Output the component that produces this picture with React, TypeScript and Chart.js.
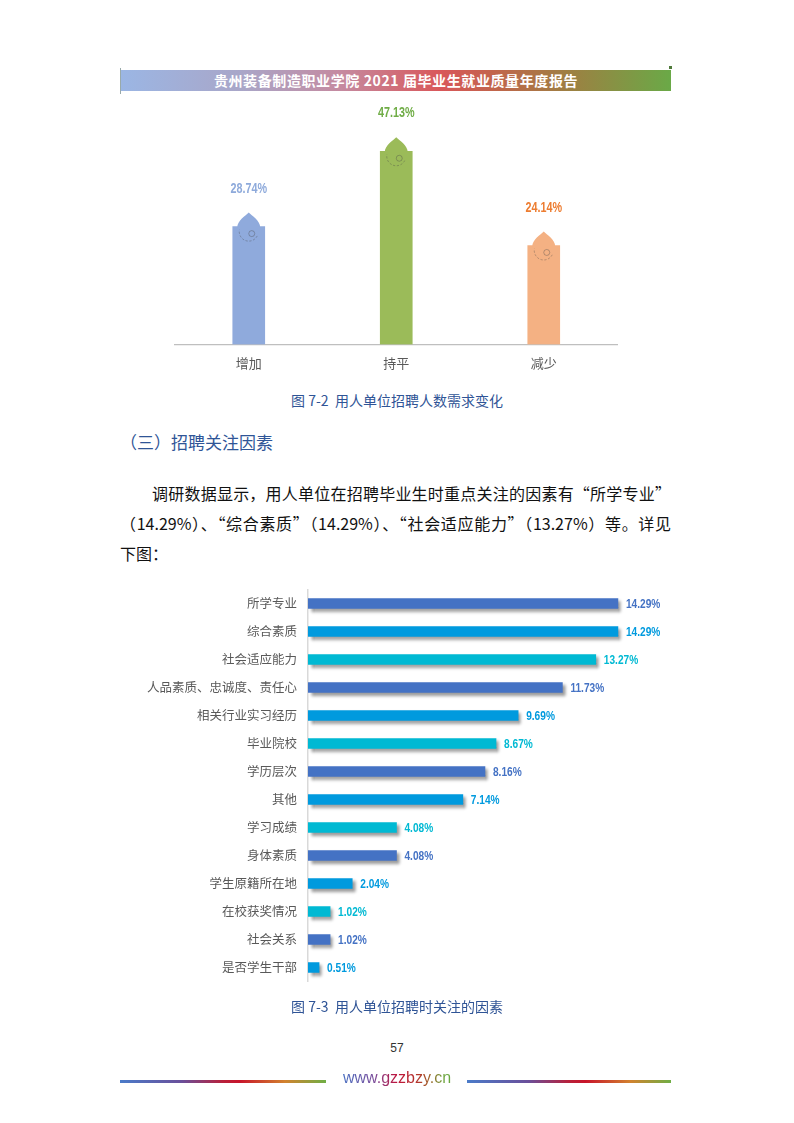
import React, { useEffect, useRef } from "react";
import { Chart, registerables } from "chart.js";

Chart.register(...registerables);

// ---------- data ----------
const demandCategories = ["增加", "持平", "减少"];
const demandValues = [28.74, 47.13, 24.14];
const demandBarColors = ["#8faadc", "#9bbb59", "#f4b183"];
const demandLabelColors = ["#8eaadb", "#70ad47", "#ed7d31"];

const factorCategories = [
  "所学专业",
  "综合素质",
  "社会适应能力",
  "人品素质、忠诚度、责任心",
  "相关行业实习经历",
  "毕业院校",
  "学历层次",
  "其他",
  "学习成绩",
  "身体素质",
  "学生原籍所在地",
  "在校获奖情况",
  "社会关系",
  "是否学生干部",
];
const factorValues = [14.29, 14.29, 13.27, 11.73, 9.69, 8.67, 8.16, 7.14, 4.08, 4.08, 2.04, 1.02, 1.02, 0.51];
const factorPalette = ["#4472c4", "#009ade", "#00b9d3"];

const CJK = "'Noto Sans CJK SC', 'Noto Sans', sans-serif";
const BOLDNUM = "'Liberation Sans', Arial, sans-serif";
const fmt = (v: number) => v.toFixed(2) + "%";

function condensedText(
  ctx: CanvasRenderingContext2D,
  text: string,
  x: number,
  y: number,
  size: number,
  squeeze: number,
  align: CanvasTextAlign
) {
  ctx.save();
  ctx.font = `bold ${size}px ${BOLDNUM}`;
  ctx.textAlign = align;
  ctx.textBaseline = "middle";
  ctx.translate(x, y);
  ctx.scale(squeeze, 1);
  ctx.fillText(text, 0, 0);
  ctx.restore();
}

// ---------- plugins ----------
const dropletPlugin = {
  id: "droplet",
  afterDatasetsDraw(chart: any) {
    const ctx = chart.ctx as CanvasRenderingContext2D;
    const meta = chart.getDatasetMeta(0);
    meta.data.forEach((bar: any, i: number) => {
      const { x, y } = bar.getProps(["x", "y"], true);
      ctx.save();
      ctx.fillStyle = demandBarColors[i];
      ctx.beginPath();
      ctx.moveTo(x, y - 14);
      ctx.bezierCurveTo(x + 3, y - 11, x + 11.5, y - 6, x + 11.5, y + 1);
      ctx.lineTo(x - 11.5, y + 1);
      ctx.bezierCurveTo(x - 11.5, y - 6, x - 3, y - 11, x, y - 14);
      ctx.closePath();
      ctx.fill();
      ctx.strokeStyle = "rgba(70,70,70,0.45)";
      ctx.lineWidth = 0.8;
      ctx.setLineDash([2.2, 1.6]);
      ctx.beginPath();
      ctx.arc(x, y + 5, 9.5, 0.15 * Math.PI, 1.06 * Math.PI);
      ctx.stroke();
      ctx.setLineDash([]);
      ctx.beginPath();
      ctx.arc(x + 3, y + 7, 3, 0, Math.PI * 2);
      ctx.stroke();
      ctx.fillStyle = demandLabelColors[i];
      condensedText(ctx, fmt(demandValues[i]), x, y - 38, 15, 0.72, "center");
      ctx.restore();
    });
  },
};

const shadowLabelPlugin = {
  id: "shadowLabels",
  beforeDatasetsDraw(chart: any) {
    const ctx = chart.ctx as CanvasRenderingContext2D;
    ctx.save();
    ctx.shadowColor = "rgba(0,0,0,0.4)";
    ctx.shadowBlur = 3;
    ctx.shadowOffsetX = 3;
    ctx.shadowOffsetY = 3;
  },
  afterDatasetsDraw(chart: any) {
    const ctx = chart.ctx as CanvasRenderingContext2D;
    ctx.restore();
    const meta = chart.getDatasetMeta(0);
    meta.data.forEach((bar: any, i: number) => {
      const { x, y } = bar.getProps(["x", "y"], true);
      ctx.save();
      ctx.fillStyle = factorPalette[i % 3];
      condensedText(ctx, fmt(factorValues[i]), x + 8, y + 1, 13, 0.78, "left");
      ctx.restore();
    });
  },
};

function DemandChart() {
  const ref = useRef<HTMLCanvasElement | null>(null);
  useEffect(() => {
    if (!ref.current) return;
    const chart = new Chart(ref.current, {
      type: "bar",
      data: {
        labels: demandCategories,
        datasets: [
          {
            data: demandValues,
            backgroundColor: demandBarColors,
            barThickness: 32,
            borderWidth: 0,
          },
        ],
      },
      options: {
        animation: false,
        responsive: false,
        layout: { padding: { left: 5, right: 12.5, top: 19, bottom: 0 } },
        plugins: { legend: { display: false }, tooltip: { enabled: false } },
        scales: {
          x: {
            grid: { display: false, drawTicks: false },
            border: { color: "#bfbfbf", width: 1.2 },
            ticks: { color: "#595959", font: { size: 13, family: CJK }, padding: 11 },
          },
          y: { display: false, min: 0, max: 55 },
        },
      },
      plugins: [dropletPlugin],
    });
    return () => chart.destroy();
  }, []);
  return (
    <canvas
      ref={ref}
      width={460}
      height={282}
      style={{ position: "absolute", left: 170, top: 100, width: 460, height: 282 }}
    />
  );
}

function FactorChart() {
  const ref = useRef<HTMLCanvasElement | null>(null);
  useEffect(() => {
    if (!ref.current) return;
    const chart = new Chart(ref.current, {
      type: "bar",
      data: {
        labels: factorCategories,
        datasets: [
          {
            data: factorValues,
            backgroundColor: factorCategories.map((_, i) => factorPalette[i % 3]),
            barThickness: 10,
            borderWidth: 0,
          },
        ],
      },
      options: {
        indexAxis: "y",
        animation: false,
        responsive: false,
        layout: { padding: { left: 0, right: 25, top: 4, bottom: 4 } },
        plugins: { legend: { display: false }, tooltip: { enabled: false } },
        scales: {
          y: {
            grid: { display: false, drawTicks: false },
            border: { color: "#d9d9d9", width: 1.5 },
            ticks: { color: "#595959", font: { size: 12.5, family: CJK }, padding: 11 },
            afterFit: (scale: any) => {
              scale.width = 208;
            },
          },
          x: { display: false, min: 0, max: 16 },
        },
      },
      plugins: [shadowLabelPlugin],
    });
    return () => chart.destroy();
  }, []);
  return (
    <canvas
      ref={ref}
      width={580}
      height={429}
      style={{ position: "absolute", left: 100, top: 571, width: 580, height: 429 }}
    />
  );
}

export default function App() {
  const abs = (o: React.CSSProperties): React.CSSProperties => ({ position: "absolute", margin: 0, ...o });
  const caption: React.CSSProperties = {
    left: 0,
    width: 794,
    textAlign: "center",
    fontFamily: CJK,
    fontSize: 14,
    lineHeight: "18px",
    color: "#2f5496",
    whiteSpace: "pre",
  };
  const para: React.CSSProperties = {
    fontFamily: CJK,
    fontSize: 16,
    lineHeight: "30px",
    color: "#111",
    whiteSpace: "nowrap",
  };
  const footerGrad =
    "linear-gradient(to right, #4a7bc9 0%, #6a4f9a 30%, #b8203a 50%, #c8142a 58%, #d2822e 80%, #6fae45 100%)";
  return (
    <div style={{ position: "absolute", left: 0, top: 0, width: 794, height: 1123, background: "#fff", overflow: "hidden" }}>
      {/* header */}
      <div style={abs({ left: 120, top: 68, width: 1, height: 26, background: "#9aa" })} />
      <div style={abs({ left: 669, top: 66, width: 3, height: 3, background: "#4f7a3a" })} />
      <div
        style={abs({
          left: 121,
          top: 70,
          width: 550,
          height: 21,
          background:
            "linear-gradient(to right, #9bb6e4 0%, #a9a6c8 22%, #c58aa0 40%, #d9575a 58%, #c1654b 68%, #9c8142 82%, #6aa947 100%)",
          color: "#fff",
          fontFamily: CJK,
          fontWeight: 700,
          fontSize: 14,
          letterSpacing: 0.6,
          lineHeight: "21px",
          textAlign: "center",
        })}
      >
        贵州装备制造职业学院 2021 届毕业生就业质量年度报告
      </div>

      <DemandChart />
      <div style={abs({ ...caption, top: 391 })}>图 7-2  用人单位招聘人数需求变化</div>

      <div style={abs({ left: 120, top: 429, fontFamily: CJK, fontSize: 17, lineHeight: "26px", color: "#2f5597" })}>
        （三）招聘关注因素
      </div>

      <div style={abs({ ...para, left: 152, top: 478, width: 519, textAlign: "justify", textAlignLast: "justify" })}>
        调研数据显示，用人单位在招聘毕业生时重点关注的因素有“所学专业”
      </div>
      <div style={abs({ ...para, left: 120, top: 508, width: 551, textAlign: "justify", textAlignLast: "justify" })}>
        （14.29%）、“综合素质”（14.29%）、“社会适应能力”（13.27%）等。详见
      </div>
      <div style={abs({ ...para, left: 120, top: 538 })}>下图：</div>

      <FactorChart />
      <div style={abs({ ...caption, top: 997 })}>图 7-3  用人单位招聘时关注的因素</div>

      <div
        style={abs({
          left: 0,
          width: 794,
          top: 1040,
          textAlign: "center",
          fontFamily: "'Liberation Sans', Arial, sans-serif",
          fontSize: 12,
          lineHeight: "16px",
          color: "#333",
        })}
      >
        57
      </div>

      {/* footer */}
      <div style={abs({ left: 120, top: 1080, width: 206, height: 3, background: footerGrad })} />
      <div style={abs({ left: 467, top: 1080, width: 204, height: 3, background: footerGrad })} />
      <div
        style={abs({
          left: 340,
          top: 1068,
          width: 114,
          textAlign: "center",
          fontFamily: "'Liberation Sans', Arial, sans-serif",
          fontSize: 16,
          lineHeight: "20px",
          background: "linear-gradient(to right, #4472c4 0%, #7a4b9a 30%, #c0143c 50%, #b23a2a 70%, #9a6a2a 80%, #6aa840 92%)",
          WebkitBackgroundClip: "text",
          backgroundClip: "text",
          color: "transparent",
          WebkitTextFillColor: "transparent",
        })}
      >
        www.gzzbzy.cn
      </div>
    </div>
  );
}
